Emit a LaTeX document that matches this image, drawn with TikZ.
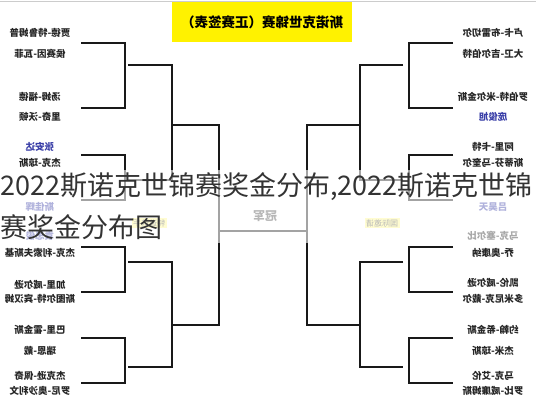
\documentclass[tikz,border=0pt]{standalone}
\usepackage{fontspec}
\usepackage{graphicx}
\newfontfamily\cjk{Noto Sans CJK SC}
\newcommand\flipt[1]{\reflectbox{#1}}
\definecolor{qblue}{HTML}{3A3FA8}
\definecolor{titleyellow}{HTML}{FFF200}
\begin{document}
\begin{tikzpicture}[x=1pt,y=-1pt,
  bline/.style={line width=1.7pt, black!90},
  pname/.style={font=\cjk\bfseries\fontsize{9.5}{10}\selectfont, inner sep=0pt, text=black!85},
  qname/.style={pname, text=qblue},
  ylabel/.style={font=\cjk\fontsize{8}{9}\selectfont, fill=yellow!45, inner sep=1.5pt, text=black!70}]
\useasboundingbox (0,0) rectangle (536,400);
\fill[white] (0,0) rectangle (536,400);
\draw[gray!40, line width=1pt] (0,1) -- (536,1);
% title
\node[fill=titleyellow, minimum width=180pt, minimum height=40pt, inner sep=0pt] (title) at (262,22)
  {\flipt{\cjk\bfseries\fontsize{13.5}{14}\selectfont 斯诺克世锦赛（正赛签表）}};
% ---------- left side names ----------
\node[pname] (l1) at (40,33) {\flipt{贾德-特鲁姆普}};
\node[pname] (l2) at (40,54) {\flipt{侯赛因-瓦菲}};
\node[pname] (l3) at (40,97) {\flipt{汤姆-福德}};
\node[pname] (l4) at (40,117) {\flipt{里奇-沃顿}};
\node[qname] (l5) at (40,147) {\flipt{张安达}};
\node[pname] (l6) at (40,163) {\flipt{杰克-琼斯}};
\node[qname] (l8) at (40,207) {\flipt{斯佳辉}};
\node[qname] (l9) at (40,236) {\flipt{袁思俊}};
\node[pname] (l10) at (40,253) {\flipt{杰克-利索夫斯基}};
\node[pname] (l11) at (40,285) {\flipt{加里-威尔逊}};
\node[pname] (l12) at (40,299) {\flipt{斯图尔特-宾汉姆}};
\node[pname] (l13) at (40,330) {\flipt{巴里-霍金斯}};
\node[pname] (l14) at (40,351) {\flipt{瑞恩-戴}};
\node[pname] (l15) at (40,376) {\flipt{杰克逊-佩奇}};
\node[pname] (l16) at (40,391) {\flipt{罗尼-奥沙利文}};
% ---------- right side names ----------
\node[pname] (r1) at (493,33) {\flipt{卢卡-布雷切尔}};
\node[pname] (r2) at (493,54) {\flipt{大卫-吉尔伯特}};
\node[pname] (r3) at (493,97) {\flipt{罗伯特-米尔金斯}};
\node[qname] (r4) at (493,117) {\flipt{庞俊旭}};
\node[pname] (r5) at (493,147) {\flipt{阿里-卡特}};
\node[pname] (r6) at (493,163) {\flipt{斯蒂芬-马奎尔}};
\node[qname] (r8) at (493,207) {\flipt{吕昊天}};
\node[pname] (r9) at (493,236) {\flipt{马克-塞尔比}};
\node[pname] (r10) at (493,253) {\flipt{乔-奥康纳}};
\node[pname] (r11) at (493,283) {\flipt{凯伦-威尔逊}};
\node[pname] (r12) at (493,299) {\flipt{多米尼克-戴尔}};
\node[pname] (r13) at (493,330) {\flipt{约翰-希金斯}};
\node[pname] (r14) at (493,351) {\flipt{杰米-琼斯}};
\node[pname] (r15) at (493,376) {\flipt{马克-艾伦}};
\node[pname] (r16) at (493,391) {\flipt{罗比-威廉姆斯}};
% ---------- left bracket ----------
\foreach \a/\b in {43/108,155/200,247/292,338/383}{
  \coordinate (la\a) at (81,\a); \coordinate (lb\a) at (81,\b);
  \draw[bline] (la\a) -- (125,\a) -- (125,\b) -- (lb\a);
}
\coordinate (lq1) at (128,65); \coordinate (lq2) at (128,180);
\coordinate (lq3) at (128,262); \coordinate (lq4) at (128,367);
\draw[bline] (lq1) -- (172,65) -- (172,180) -- (lq2);
\draw[bline] (lq3) -- (172,262) -- (172,367) -- (lq4);
\coordinate (ls1) at (172,125); \coordinate (ls2) at (172,325);
\draw[bline] (ls1) -- (219,125) -- (219,325) -- (ls2);
% ---------- right bracket ----------
\foreach \a/\b in {43/108,155/200,247/292,338/383}{
  \coordinate (ra\a) at (453,\a); \coordinate (rb\a) at (453,\b);
  \draw[bline] (ra\a) -- (409,\a) -- (409,\b) -- (rb\a);
}
\coordinate (rq1) at (403,65); \coordinate (rq2) at (403,180);
\coordinate (rq3) at (403,262); \coordinate (rq4) at (403,367);
\draw[bline] (rq1) -- (360,65) -- (360,180) -- (rq2);
\draw[bline] (rq3) -- (360,262) -- (360,367) -- (rq4);
\coordinate (rs1) at (360,125); \coordinate (rs2) at (360,325);
\draw[bline] (rs1) -- (307,125) -- (307,325) -- (rs2);
% final
\coordinate (fl) at (219,231); \coordinate (fr) at (307,231);
\draw[bline] (fl) -- (fr);
\node[font=\cjk\bfseries\fontsize{12}{12}\selectfont, text=black!70, inner sep=0pt] (champ) at (265,216) {\flipt{冠军}};
% yellow labels
\node[ylabel] (ly) at (149,223) {\flipt{特邀选手}};
\node[ylabel] (ry) at (382,223) {\flipt{国际邀请}};
% overlay
\fill[white, opacity=0.6] (0,170) rectangle (536,243);
\node[anchor=west, font=\cjk\fontsize{27}{28}\selectfont, text=black!80, inner sep=0pt] (ov1) at (0,187)
  {2022斯诺克世锦赛奖金分布,2022斯诺克世锦};
\node[anchor=west, font=\cjk\fontsize{27}{28}\selectfont, text=black!80, inner sep=0pt] (ov2) at (0,227)
  {赛奖金分布图};
\end{tikzpicture}
\end{document}
